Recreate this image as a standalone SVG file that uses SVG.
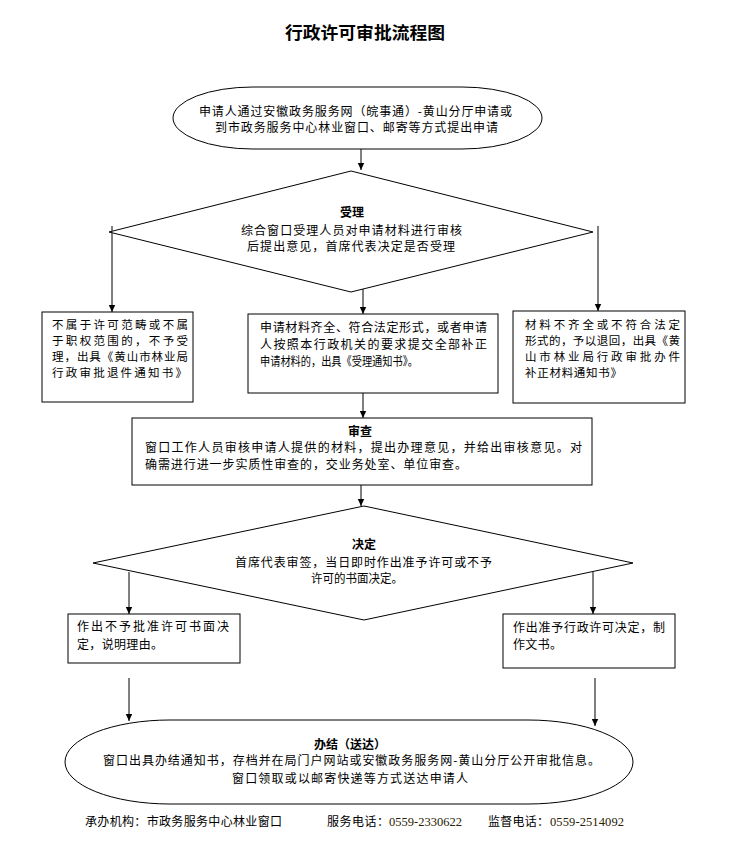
<svg xmlns="http://www.w3.org/2000/svg" width="733" height="849" viewBox="0 0 733 849">
<style>
text{font-family:"Noto Sans CJK SC","Liberation Sans",sans-serif;font-size:12px;fill:#000}
.b{font-weight:bold}
.c{text-anchor:middle}
.t{font-size:17px;font-weight:bold}
.m{font-size:11.5px}
.n{font-family:"Liberation Serif","Noto Sans CJK SC",serif;font-size:12.5px;fill:#2a2000}
.s{fill:#fff;stroke:#000;stroke-width:1}
.l{stroke:#000;stroke-width:1;fill:none;marker-end:url(#a)}
</style>
<defs>
<marker id="a" markerWidth="8" markerHeight="8" refX="7" refY="4" orient="auto" markerUnits="userSpaceOnUse">
<path d="M0,0.8 L7,4 L0,7.2 Z" fill="#000"/>
</marker>
</defs>
<rect width="733" height="849" fill="#fff"/>
<text class="t" x="285" y="39" textLength="160" lengthAdjust="spacingAndGlyphs">行政许可审批流程图</text>

<g id="connectors">
<line class="l" x1="361" y1="149" x2="361" y2="170"/>
<line class="l" x1="112" y1="226" x2="112" y2="312"/>
<line class="l" x1="363" y1="285" x2="363" y2="314"/>
<line class="l" x1="598" y1="226" x2="598" y2="311"/>
<line class="l" x1="363" y1="393" x2="363" y2="418"/>
<line class="l" x1="361" y1="485" x2="361" y2="506"/>
<line class="l" x1="129" y1="572" x2="129" y2="614"/>
<line class="l" x1="593" y1="572" x2="593" y2="614"/>
<line class="l" x1="129" y1="678" x2="129" y2="721"/>
<line class="l" x1="595" y1="678" x2="595" y2="726"/>
</g>

<g id="start">
<rect class="s" x="173" y="87" width="369" height="62" rx="80" ry="31"/>
<text x="199" y="116" textLength="313" lengthAdjust="spacing">申请人通过安徽政务服务网（皖事通）-黄山分厅申请或</text>
<text x="215" y="132" textLength="283" lengthAdjust="spacing">到市政务服务中心林业窗口、邮寄等方式提出申请</text>
</g>

<g id="accept">
<polygon class="s" points="351,171 593,232 351,292 109,232"/>
<text class="b c" x="352" y="217">受理</text>
<text x="241" y="235" textLength="221" lengthAdjust="spacing">综合窗口受理人员对申请材料进行审核</text>
<text x="247" y="251" textLength="208" lengthAdjust="spacing">后提出意见，首席代表决定是否受理</text>
</g>

<g id="reject">
<rect class="s" x="42" y="312" width="151" height="90"/>
<text class="m" x="52" y="329" textLength="136" lengthAdjust="spacing">不属于许可范畴或不属</text>
<text class="m" x="52" y="345" textLength="136" lengthAdjust="spacing">于职权范围的，不予受</text>
<text class="m" x="52" y="361" textLength="136" lengthAdjust="spacing">理，出具《黄山市林业局</text>
<text class="m" x="52" y="377" textLength="135" lengthAdjust="spacing">行政审批退件通知书》</text>
</g>

<g id="accepted">
<rect class="s" x="248" y="314" width="250" height="79"/>
<text x="260" y="332" textLength="227" lengthAdjust="spacing">申请材料齐全、符合法定形式，或者申请</text>
<text x="260" y="349" textLength="227" lengthAdjust="spacing">人按照本行政机关的要求提交全部补正</text>
<text x="260" y="366" textLength="158" lengthAdjust="spacingAndGlyphs">申请材料的，出具《受理通知书》。</text>
</g>

<g id="supplement">
<rect class="s" x="513" y="311" width="172" height="92"/>
<text class="m" x="525" y="329" textLength="155" lengthAdjust="spacing">材料不齐全或不符合法定</text>
<text class="m" x="525" y="345" textLength="155" lengthAdjust="spacing">形式的，予以退回，出具《黄</text>
<text class="m" x="525" y="361" textLength="155" lengthAdjust="spacing">山市林业局行政审批办件</text>
<text class="m" x="525" y="377" textLength="97" lengthAdjust="spacing">补正材料通知书》</text>
</g>

<g id="review">
<rect class="s" x="132" y="418" width="460" height="67"/>
<text class="b c" x="360" y="436">审查</text>
<text x="145" y="452" textLength="437" lengthAdjust="spacing">窗口工作人员审核申请人提供的材料，提出办理意见，并给出审核意见。对</text>
<text x="145" y="469" textLength="322" lengthAdjust="spacing">确需进行进一步实质性审查的，交业务处室、单位审查。</text>
</g>

<g id="decide">
<polygon class="s" points="364,506 633,563 364,620 93,563"/>
<text class="b c" x="364" y="549">决定</text>
<text x="235" y="567" textLength="257" lengthAdjust="spacing">首席代表审签，当日即时作出准予许可或不予</text>
<text x="311" y="583" textLength="92" lengthAdjust="spacingAndGlyphs">许可的书面决定。</text>
</g>

<g id="deny">
<rect class="s" x="68" y="614" width="172" height="49"/>
<text x="77" y="631" textLength="152" lengthAdjust="spacing">作出不予批准许可书面决</text>
<text x="77" y="649" textLength="86" lengthAdjust="spacing">定，说明理由。</text>
</g>

<g id="grant">
<rect class="s" x="503" y="614" width="172" height="54"/>
<text x="513" y="632" textLength="152" lengthAdjust="spacing">作出准予行政许可决定，制</text>
<text x="513" y="649" textLength="49" lengthAdjust="spacing">作文书。</text>
</g>

<g id="finish">
<rect class="s" x="65" y="720" width="568" height="84" rx="105" ry="42"/>
<text class="b c" x="350" y="749">办结（送达）</text>
<text x="103" y="765" textLength="497" lengthAdjust="spacing">窗口出具办结通知书，存档并在局门户网站或安徽政务服务网-黄山分厅公开审批信息。</text>
<text x="232" y="783" textLength="236" lengthAdjust="spacing">窗口领取或以邮寄快递等方式送达申请人</text>
</g>

<g id="footer">
<text x="85" y="826" textLength="197" lengthAdjust="spacing">承办机构：市政务服务中心林业窗口</text>
<text x="327" y="826" textLength="62" lengthAdjust="spacing">服务电话：</text>
<text class="n" x="389" y="826" textLength="73" lengthAdjust="spacing">0559-2330622</text>
<text x="488" y="826" textLength="61" lengthAdjust="spacing">监督电话：</text>
<text class="n" x="550" y="826" textLength="74" lengthAdjust="spacing">0559-2514092</text>
</g>
</svg>
